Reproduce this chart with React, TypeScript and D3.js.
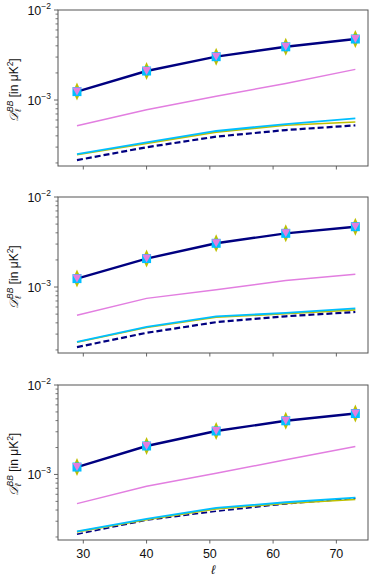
import React, { useRef, useEffect } from "react";
import * as d3 from "d3";

// multipoles
const ells = [29, 40, 51, 62, 73];

// panel 1
const p1Model = [1.24e-3, 2.1e-3, 3.03e-3, 3.9e-3, 4.76e-3];
const p1Violet = [5.18e-4, 7.78e-4, 1.1e-3, 1.53e-3, 2.19e-3];
const p1Cyan = [2.51e-4, 3.39e-4, 4.53e-4, 5.41e-4, 6.25e-4];
const p1Olive = [2.47e-4, 3.3e-4, 4.4e-4, 5.25e-4, 5.7e-4];
const p1Dashed = [2.15e-4, 2.99e-4, 3.92e-4, 4.64e-4, 5.23e-4];

// panel 2
const p2Model = [1.24e-3, 2.07e-3, 3.06e-3, 3.95e-3, 4.68e-3];
const p2Violet = [4.86e-4, 7.48e-4, 9.3e-4, 1.18e-3, 1.39e-3];
const p2Cyan = [2.46e-4, 3.61e-4, 4.73e-4, 5.15e-4, 5.8e-4];
const p2Olive = [2.44e-4, 3.55e-4, 4.62e-4, 5.05e-4, 5.57e-4];
const p2Dashed = [2.15e-4, 3.1e-4, 4.07e-4, 4.73e-4, 5.28e-4];

// panel 3
const p3Model = [1.21e-3, 2.08e-3, 3.06e-3, 3.98e-3, 4.8e-3];
const p3Violet = [4.72e-4, 7.36e-4, 1.03e-3, 1.46e-3, 2.05e-3];
const p3Cyan = [2.31e-4, 3.19e-4, 4.23e-4, 4.89e-4, 5.51e-4];
const p3Olive = [2.28e-4, 3.12e-4, 4.12e-4, 4.75e-4, 5.24e-4];
const p3Dashed = [2.15e-4, 3.08e-4, 3.88e-4, 4.69e-4, 5.41e-4];

const panels = [
  { top: 10, bottom: 166, model: p1Model, violet: p1Violet, cyan: p1Cyan, olive: p1Olive, dashed: p1Dashed, dashW: 2.2 },
  { top: 197, bottom: 353, model: p2Model, violet: p2Violet, cyan: p2Cyan, olive: p2Olive, dashed: p2Dashed, dashW: 2.2 },
  { top: 385, bottom: 540, model: p3Model, violet: p3Violet, cyan: p3Cyan, olive: p3Olive, dashed: p3Dashed, dashW: 1.6 },
];

const xTicks = [30, 40, 50, 60, 70];
const FONT = "'Liberation Sans', Arial, sans-serif";

const App = () => {
  const ref = useRef<SVGSVGElement>(null);

  useEffect(() => {
    const svg = d3.select(ref.current);
    svg.selectAll("*").remove();

    const left = 58;
    const right = 368;
    const x = d3.scaleLinear().domain([26, 75]).range([left, right]);

    panels.forEach((p, pi) => {
      const y = d3.scaleLog().domain([1.85e-4, 1e-2]).range([p.bottom, p.top]);
      const g = svg.append("g");

      const line = d3
        .line<number>()
        .x((_, i) => x(ells[i]))
        .y((d) => y(d));

      // minor + major ticks on y
      const minor: number[] = [];
      for (let e = -4; e <= -3; e++) {
        for (let m = 2; m <= 9; m++) {
          const v = m * Math.pow(10, e);
          if (v >= 1.85e-4 && v <= 1e-2) minor.push(v);
        }
      }
      minor.forEach((v) => {
        g.append("line")
          .attr("x1", left - 2.5)
          .attr("x2", left)
          .attr("y1", y(v))
          .attr("y2", y(v))
          .attr("stroke", "#555")
          .attr("stroke-width", 0.8);
      });
      [1e-3, 1e-2].forEach((v, k) => {
        g.append("line")
          .attr("x1", left - 4)
          .attr("x2", left)
          .attr("y1", y(v))
          .attr("y2", y(v))
          .attr("stroke", "#555")
          .attr("stroke-width", 0.9);
        const t = g
          .append("text")
          .attr("x", left - 7)
          .attr("y", y(v) + 4.5)
          .attr("text-anchor", "end")
          .attr("font-family", FONT)
          .attr("font-size", 12.5)
          .attr("fill", "#111");
        t.append("tspan").text("10");
        t.append("tspan")
          .attr("dy", -5.5)
          .attr("font-size", 8.5)
          .text(k === 0 ? "\u22123" : "\u22122");
      });

      // x ticks
      xTicks.forEach((v) => {
        g.append("line")
          .attr("x1", x(v))
          .attr("x2", x(v))
          .attr("y1", p.bottom)
          .attr("y2", p.bottom + 3.5)
          .attr("stroke", "#555")
          .attr("stroke-width", 0.9);
        if (pi === 2) {
          g.append("text")
            .attr("x", x(v))
            .attr("y", p.bottom + 18)
            .attr("text-anchor", "middle")
            .attr("font-family", FONT)
            .attr("font-size", 12.5)
            .attr("fill", "#111")
            .text(v);
        }
      });

      // y label
      const cy = (p.top + p.bottom) / 2 + 2;
      const lab = g
        .append("text")
        .attr("transform", `translate(18,${cy}) rotate(-90)`)
        .attr("text-anchor", "middle")
        .attr("font-family", FONT)
        .attr("font-size", 12)
        .attr("fill", "#111");
      lab.append("tspan").attr("font-family", "'DejaVu Serif', serif").attr("font-style", "italic").text("\u{1D49F}");
      lab.append("tspan").attr("dy", 3).attr("font-size", 8.5).attr("font-style", "italic").text("\u2113");
      lab.append("tspan").attr("dy", -8).attr("dx", -3).attr("font-size", 8.5).attr("font-style", "italic").text("BB");
      lab.append("tspan").attr("dy", 5).text(" [in  \u03BCK");
      lab.append("tspan").attr("dy", -5).attr("font-size", 8.5).text("2");
      lab.append("tspan").attr("dy", 5).text("]");

      // lines
      g.append("path").datum(p.dashed).attr("d", line).attr("fill", "none")
        .attr("stroke", "#000080").attr("stroke-width", p.dashW).attr("stroke-dasharray", "6,3");
      g.append("path").datum(p.olive).attr("d", line).attr("fill", "none")
        .attr("stroke", "#bfbf00").attr("stroke-width", 1.6);
      g.append("path").datum(p.cyan).attr("d", line).attr("fill", "none")
        .attr("stroke", "#00bfff").attr("stroke-width", 1.8);
      g.append("path").datum(p.violet).attr("d", line).attr("fill", "none")
        .attr("stroke", "#e27ee0").attr("stroke-width", 1.5);
      g.append("path").datum(p.model).attr("d", line).attr("fill", "none")
        .attr("stroke", "#000080").attr("stroke-width", 2.4);

      // markers
      p.model.forEach((v, i) => {
        const cx = x(ells[i]);
        const yy = y(v);
        g.append("path")
          .attr("d", `M${cx},${yy - 9}L${cx + 4},${yy}L${cx},${yy + 9}L${cx - 4},${yy}Z`)
          .attr("fill", "#bfbf00");
        g.append("rect")
          .attr("x", cx - 4.5)
          .attr("y", yy - 4.5)
          .attr("width", 9)
          .attr("height", 9)
          .attr("fill", "#00bfff");
        g.append("path")
          .attr("d", `M${cx - 4.5},${yy - 4}L${cx + 4.5},${yy - 4}L${cx},${yy + 4}Z`)
          .attr("fill", "#e27ee0");
      });

      // frame
      g.append("rect")
        .attr("x", left)
        .attr("y", p.top)
        .attr("width", right - left)
        .attr("height", p.bottom - p.top)
        .attr("fill", "none")
        .attr("stroke", "#555")
        .attr("stroke-width", 1);
    });

    svg.append("text")
      .attr("x", x(50.5))
      .attr("y", 574)
      .attr("text-anchor", "middle")
      .attr("font-family", FONT)
      .attr("font-style", "italic")
      .attr("font-size", 12.5)
      .attr("fill", "#111")
      .text("\u2113");
  }, []);

  return (
    <svg
      ref={ref}
      width={374}
      height={581}
      style={{ position: "absolute", left: 0, top: 0, background: "white" }}
    ></svg>
  );
};

export default App;
